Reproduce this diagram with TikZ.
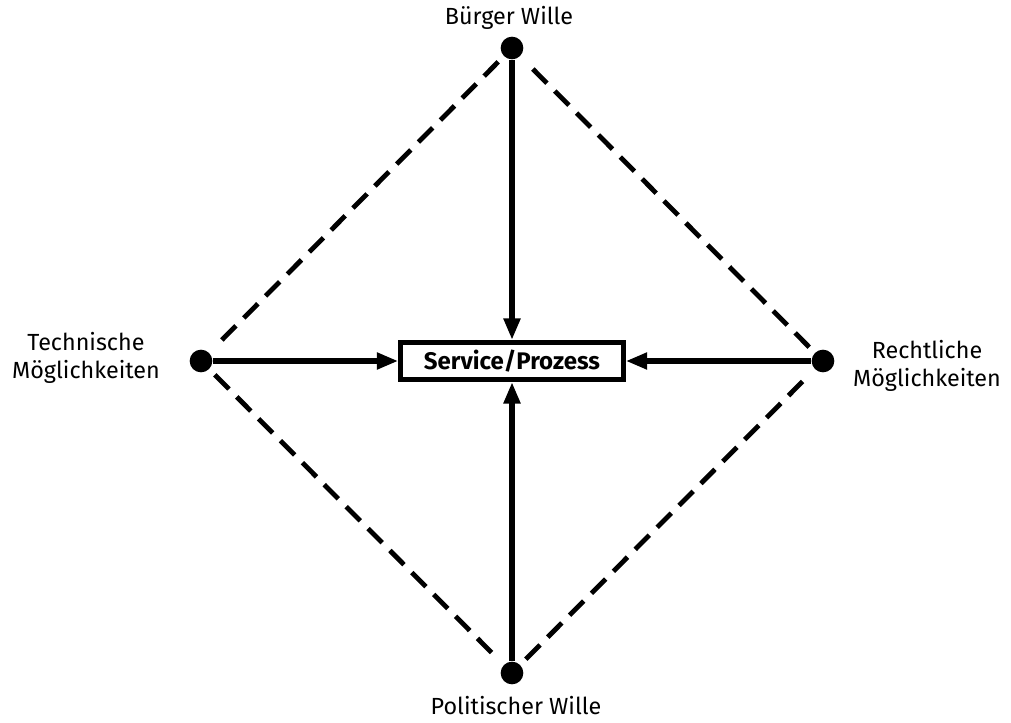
\documentclass[tikz,border=0pt]{standalone}
\usepackage{fontspec}
\setmainfont{Fira Sans}
\usetikzlibrary{arrows.meta,positioning}

\tikzset{
  pole/.style={circle,fill=black,inner sep=0pt,minimum size=17pt},
  polelabel/.style={align=center,font=\fontsize{17.5}{21}\selectfont},
  center/.style={draw,line width=3.8pt,minimum width=167pt,minimum height=28pt,
    inner sep=0pt,font=\fontsize{18}{20}\selectfont\bfseries},
  push/.style={line width=3.8pt,-{Triangle[length=16pt,width=12pt]}},
  link/.style={line width=3.6pt,dash pattern=on 15pt off 8.25pt,shorten <=6pt,shorten >=6pt}
}

\begin{document}
\begin{tikzpicture}[x=0.75pt,y=-0.75pt]
  \useasboundingbox (0,0) rectangle (1011,723);
  % poles
  \node[pole] (buerger) at (512,48) {};
  \node[pole] (technik) at (201,361) {};
  \node[pole] (recht) at (823,361) {};
  \node[pole] (politik) at (512,673) {};
  \node[center] (service) at (512,361) {Service/Prozess};
  % labels
  \node[polelabel] (lbuerger) at (509,18) {Bürger Wille};
  \node[polelabel] (ltechnik) at (86,358) {Technische\\Möglichkeiten};
  \node[polelabel] (lrecht) at (927,366) {Rechtliche\\Möglichkeiten};
  \node[polelabel] (lpolitik) at (516,706) {Politischer Wille};
  % diamond
  \draw[link] (buerger) -- (technik);
  \draw[link] (technik) -- (politik);
  \draw[link] (politik) -- (recht);
  \draw[link] (recht) -- (buerger);
  % arrows
  \draw[push] (buerger) -- (service);
  \draw[push] (politik) -- (service);
  \draw[push] (technik) -- (service);
  \draw[push] (recht) -- (service);
\end{tikzpicture}
\end{document}
